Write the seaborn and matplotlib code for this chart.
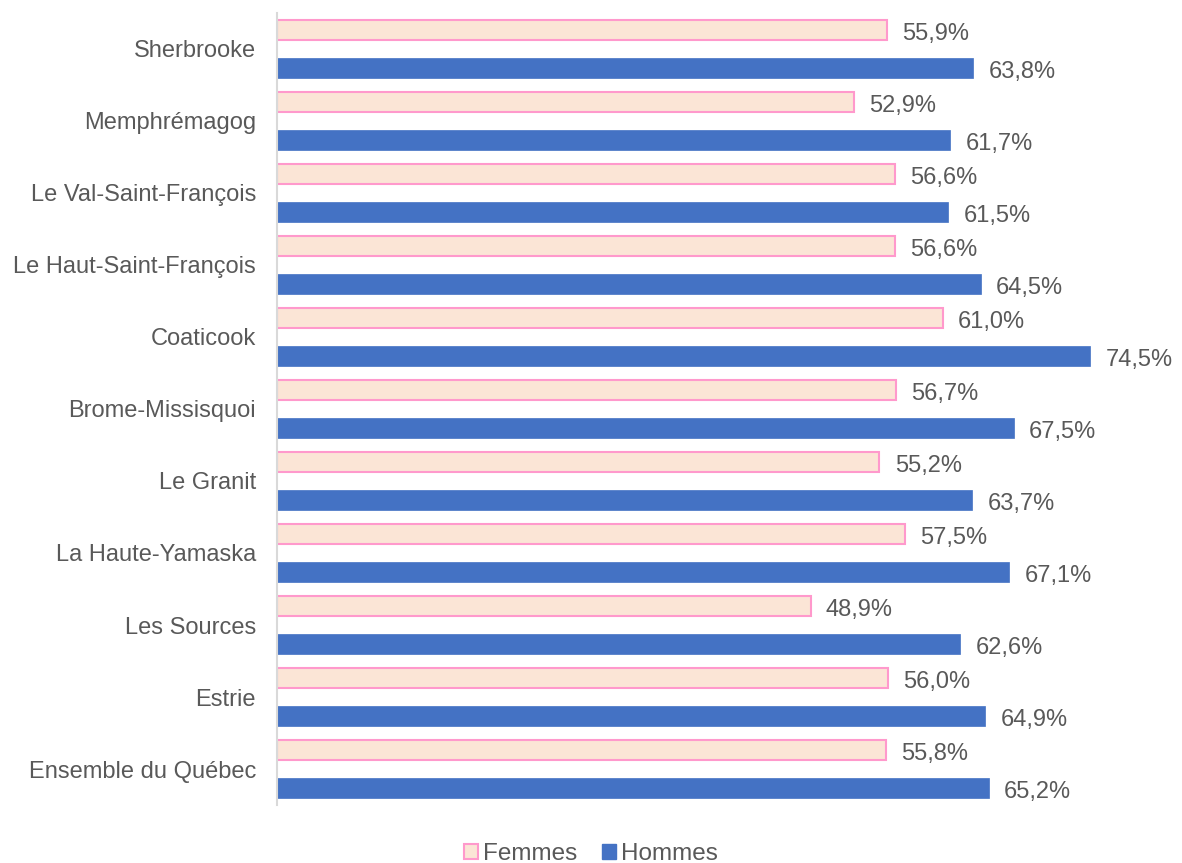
import pandas as pd
import seaborn as sns
from matplotlib import pyplot as plt
from matplotlib.patches import Patch

regions = [
    "Sherbrooke",
    "Memphrémagog",
    "Le Val-Saint-François",
    "Le Haut-Saint-François",
    "Coaticook",
    "Brome-Missisquoi",
    "Le Granit",
    "La Haute-Yamaska",
    "Les Sources",
    "Estrie",
    "Ensemble du Québec",
]
femmes = [55.9, 52.9, 56.6, 56.6, 61.0, 56.7, 55.2, 57.5, 48.9, 56.0, 55.8]
hommes = [63.8, 61.7, 61.5, 64.5, 74.5, 67.5, 63.7, 67.1, 62.6, 64.9, 65.2]
series = ["Femmes", "Hommes"]

FACE_F = "#FBE5D6"
EDGE_F = "#FF99CC"
COL_H = "#4472C4"
TXT = "#595959"

df = pd.concat(
    [
        pd.DataFrame({"region": regions, "sexe": "Femmes", "pct": femmes}),
        pd.DataFrame({"region": regions, "sexe": "Hommes", "pct": hommes}),
    ],
    ignore_index=True,
)

sns.set_style("white")
plt.rcParams["font.family"] = ["Liberation Sans", "DejaVu Sans"]

fig = plt.figure(figsize=(11.82, 8.63), dpi=100)
ax = fig.add_axes([0.2343, 0.067, 0.7387, 0.9185])

sns.barplot(
    data=df,
    x="pct",
    y="region",
    hue="sexe",
    hue_order=series,
    order=regions,
    palette={"Femmes": FACE_F, "Hommes": COL_H},
    saturation=1,
    orient="h",
    width=1.056,
    gap=0.474,
    legend=False,
    ax=ax,
)

for bar in ax.containers[0]:
    bar.set_edgecolor(EDGE_F)
    bar.set_linewidth(1.5)
for bar in ax.containers[1]:
    bar.set_edgecolor(COL_H)
    bar.set_linewidth(0.5)

for cont in ax.containers:
    anns = ax.bar_label(
        cont,
        labels=[f"{v:.1f}%".replace(".", ",") for v in cont.datavalues],
        padding=11,
        fontsize=17,
        color=TXT,
    )
    for a in anns:
        a.xyann = (11, -3)

ax.set_xlim(0, 80)
ax.set_ylim(10.5, -0.5)
ax.set_xlabel("")
ax.set_ylabel("")
ax.set_xticks([])
ax.tick_params(axis="y", length=0, pad=15, labelsize=17, labelcolor=TXT)
for side in ["top", "right", "bottom"]:
    ax.spines[side].set_visible(False)
ax.spines["left"].set_color("#D9D9D9")
ax.spines["left"].set_linewidth(1.5)

handles = [
    Patch(facecolor=FACE_F, edgecolor=EDGE_F, linewidth=1.5, label="Femmes"),
    Patch(facecolor=COL_H, edgecolor=COL_H, label="Hommes"),
]
leg = fig.legend(
    handles=handles,
    loc="lower center",
    bbox_to_anchor=(0.5, -0.028),
    ncol=2,
    frameon=False,
    fontsize=17.5,
    handlelength=0.6,
    handleheight=0.6,
    handletextpad=0.2,
    columnspacing=1.0,
)
for t in leg.get_texts():
    t.set_color(TXT)

fig.savefig("out.png", dpi=100)
